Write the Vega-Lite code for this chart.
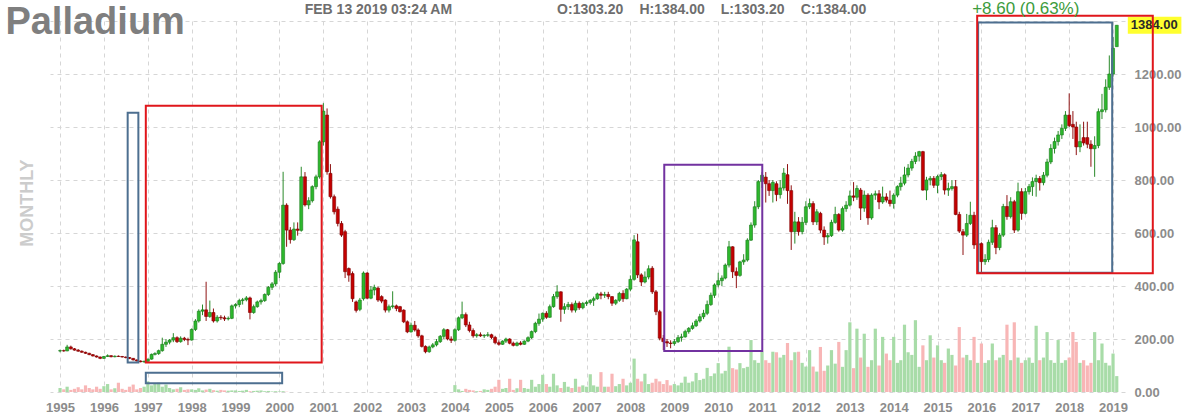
{
"$schema": "https://vega.github.io/schema/vega-lite/v6.json",
"width": 1075, "height": 371,
"autosize": "none",
"padding": {"left": 50, "top": 21, "right": 71, "bottom": 25},
"background": "white",
"config": {"view": {"stroke": null}, "font": "Liberation Sans",
  "axis": {"gridColor": "#d6d6d6", "gridDash": [4, 4], "gridWidth": 1, "domain": false, "ticks": false, "zindex": 0,
    "labelFont": "Liberation Sans", "labelFontSize": 13, "labelFontWeight": "bold", "labelColor": "#8c8c8c", "title": null}},
"datasets": {
"px": [
{"d":"1995-01","o":155,"h":160,"l":150,"c":156,"v":15},
{"d":"1995-02","o":156,"h":160,"l":152,"c":155,"v":10},
{"d":"1995-03","o":155,"h":178,"l":154,"c":170,"v":20},
{"d":"1995-04","o":170,"h":175,"l":160,"c":163,"v":8},
{"d":"1995-05","o":163,"h":166,"l":156,"c":158,"v":12},
{"d":"1995-06","o":158,"h":162,"l":152,"c":154,"v":18},
{"d":"1995-07","o":154,"h":157,"l":148,"c":150,"v":10},
{"d":"1995-08","o":150,"h":152,"l":144,"c":146,"v":25},
{"d":"1995-09","o":146,"h":148,"l":139,"c":141,"v":15},
{"d":"1995-10","o":141,"h":143,"l":134,"c":136,"v":10},
{"d":"1995-11","o":136,"h":138,"l":130,"c":132,"v":20},
{"d":"1995-12","o":132,"h":134,"l":124,"c":127,"v":12},
{"d":"1996-01","o":127,"h":136,"l":125,"c":134,"v":22},
{"d":"1996-02","o":134,"h":142,"l":132,"c":137,"v":30},
{"d":"1996-03","o":137,"h":139,"l":131,"c":133,"v":10},
{"d":"1996-04","o":133,"h":138,"l":131,"c":135,"v":14},
{"d":"1996-05","o":135,"h":138,"l":132,"c":134,"v":35},
{"d":"1996-06","o":134,"h":136,"l":130,"c":132,"v":12},
{"d":"1996-07","o":132,"h":134,"l":127,"c":130,"v":8},
{"d":"1996-08","o":130,"h":132,"l":124,"c":127,"v":20},
{"d":"1996-09","o":127,"h":128,"l":119,"c":121,"v":28},
{"d":"1996-10","o":121,"h":123,"l":115,"c":117,"v":10},
{"d":"1996-11","o":117,"h":119,"l":112,"c":114,"v":15},
{"d":"1996-12","o":114,"h":118,"l":110,"c":116,"v":20},
{"d":"1997-01","o":116,"h":126,"l":114,"c":124,"v":40},
{"d":"1997-02","o":124,"h":145,"l":122,"c":142,"v":25},
{"d":"1997-03","o":142,"h":150,"l":138,"c":145,"v":30},
{"d":"1997-04","o":145,"h":160,"l":140,"c":156,"v":35},
{"d":"1997-05","o":156,"h":205,"l":152,"c":180,"v":20},
{"d":"1997-06","o":180,"h":200,"l":170,"c":188,"v":28},
{"d":"1997-07","o":188,"h":200,"l":180,"c":196,"v":15},
{"d":"1997-08","o":196,"h":222,"l":188,"c":205,"v":10},
{"d":"1997-09","o":205,"h":210,"l":185,"c":190,"v":12},
{"d":"1997-10","o":190,"h":210,"l":186,"c":203,"v":18},
{"d":"1997-11","o":203,"h":208,"l":192,"c":198,"v":8},
{"d":"1997-12","o":198,"h":205,"l":177,"c":196,"v":10},
{"d":"1998-01","o":196,"h":240,"l":194,"c":236,"v":10},
{"d":"1998-02","o":236,"h":275,"l":230,"c":268,"v":8},
{"d":"1998-03","o":268,"h":312,"l":262,"c":305,"v":14},
{"d":"1998-04","o":305,"h":330,"l":290,"c":310,"v":6},
{"d":"1998-05","o":310,"h":416,"l":268,"c":285,"v":9},
{"d":"1998-06","o":285,"h":345,"l":280,"c":300,"v":12},
{"d":"1998-07","o":300,"h":315,"l":262,"c":268,"v":7},
{"d":"1998-08","o":268,"h":290,"l":262,"c":282,"v":5},
{"d":"1998-09","o":282,"h":290,"l":272,"c":280,"v":8},
{"d":"1998-10","o":280,"h":288,"l":268,"c":276,"v":6},
{"d":"1998-11","o":276,"h":285,"l":270,"c":278,"v":5},
{"d":"1998-12","o":278,"h":330,"l":275,"c":325,"v":6},
{"d":"1999-01","o":325,"h":335,"l":315,"c":330,"v":6},
{"d":"1999-02","o":330,"h":352,"l":320,"c":345,"v":4},
{"d":"1999-03","o":345,"h":355,"l":330,"c":348,"v":5},
{"d":"1999-04","o":348,"h":362,"l":342,"c":355,"v":8},
{"d":"1999-05","o":355,"h":360,"l":274,"c":300,"v":3},
{"d":"1999-06","o":300,"h":330,"l":295,"c":322,"v":4},
{"d":"1999-07","o":322,"h":345,"l":318,"c":340,"v":5},
{"d":"1999-08","o":340,"h":352,"l":330,"c":345,"v":6},
{"d":"1999-09","o":345,"h":372,"l":340,"c":368,"v":3},
{"d":"1999-10","o":368,"h":400,"l":362,"c":395,"v":4},
{"d":"1999-11","o":395,"h":415,"l":385,"c":408,"v":2},
{"d":"1999-12","o":408,"h":460,"l":400,"c":452,"v":3},
{"d":"2000-01","o":452,"h":490,"l":430,"c":485,"v":2},
{"d":"2000-02","o":485,"h":831,"l":480,"c":705,"v":3},
{"d":"2000-03","o":705,"h":712,"l":548,"c":611,"v":1},
{"d":"2000-04","o":611,"h":622,"l":560,"c":575,"v":0},
{"d":"2000-05","o":575,"h":640,"l":570,"c":615,"v":0},
{"d":"2000-06","o":615,"h":640,"l":590,"c":610,"v":0},
{"d":"2000-07","o":610,"h":850,"l":605,"c":812,"v":0},
{"d":"2000-08","o":812,"h":830,"l":700,"c":706,"v":0},
{"d":"2000-09","o":706,"h":735,"l":690,"c":722,"v":0},
{"d":"2000-10","o":722,"h":780,"l":715,"c":775,"v":0},
{"d":"2000-11","o":775,"h":820,"l":765,"c":812,"v":0},
{"d":"2000-12","o":812,"h":950,"l":805,"c":944,"v":0},
{"d":"2001-01","o":944,"h":1090,"l":930,"c":1060,"v":0},
{"d":"2001-02","o":1045,"h":1070,"l":820,"c":831,"v":0},
{"d":"2001-03","o":825,"h":860,"l":730,"c":737,"v":0},
{"d":"2001-04","o":737,"h":745,"l":670,"c":680,"v":0},
{"d":"2001-05","o":690,"h":700,"l":625,"c":636,"v":0},
{"d":"2001-06","o":636,"h":645,"l":585,"c":592,"v":0},
{"d":"2001-07","o":605,"h":612,"l":430,"c":454,"v":0},
{"d":"2001-08","o":466,"h":470,"l":416,"c":441,"v":0},
{"d":"2001-09","o":447,"h":455,"l":340,"c":352,"v":0},
{"d":"2001-10","o":340,"h":345,"l":300,"c":308,"v":0},
{"d":"2001-11","o":312,"h":355,"l":305,"c":347,"v":0},
{"d":"2001-12","o":352,"h":455,"l":345,"c":449,"v":0},
{"d":"2002-01","o":449,"h":452,"l":350,"c":354,"v":0},
{"d":"2002-02","o":354,"h":400,"l":350,"c":385,"v":0},
{"d":"2002-03","o":385,"h":405,"l":365,"c":395,"v":0},
{"d":"2002-04","o":392,"h":398,"l":340,"c":347,"v":0},
{"d":"2002-05","o":360,"h":365,"l":335,"c":343,"v":0},
{"d":"2002-06","o":347,"h":350,"l":300,"c":309,"v":0},
{"d":"2002-07","o":309,"h":330,"l":300,"c":322,"v":0},
{"d":"2002-08","o":322,"h":380,"l":315,"c":325,"v":0},
{"d":"2002-09","o":325,"h":330,"l":305,"c":315,"v":0},
{"d":"2002-10","o":322,"h":325,"l":300,"c":303,"v":0},
{"d":"2002-11","o":309,"h":312,"l":260,"c":265,"v":0},
{"d":"2002-12","o":265,"h":270,"l":222,"c":227,"v":0},
{"d":"2003-01","o":227,"h":262,"l":224,"c":252,"v":0},
{"d":"2003-02","o":252,"h":268,"l":228,"c":234,"v":0},
{"d":"2003-03","o":234,"h":240,"l":205,"c":212,"v":0},
{"d":"2003-04","o":212,"h":216,"l":168,"c":172,"v":0},
{"d":"2003-05","o":172,"h":176,"l":146,"c":152,"v":0},
{"d":"2003-06","o":152,"h":175,"l":148,"c":170,"v":0},
{"d":"2003-07","o":170,"h":185,"l":165,"c":178,"v":0},
{"d":"2003-08","o":178,"h":200,"l":172,"c":190,"v":0},
{"d":"2003-09","o":190,"h":215,"l":185,"c":210,"v":0},
{"d":"2003-10","o":210,"h":241,"l":200,"c":235,"v":0},
{"d":"2003-11","o":235,"h":238,"l":195,"c":200,"v":0},
{"d":"2003-12","o":200,"h":210,"l":185,"c":195,"v":0},
{"d":"2004-01","o":195,"h":240,"l":190,"c":235,"v":26},
{"d":"2004-02","o":235,"h":285,"l":230,"c":280,"v":10},
{"d":"2004-03","o":280,"h":341,"l":275,"c":292,"v":4},
{"d":"2004-04","o":292,"h":300,"l":245,"c":253,"v":12},
{"d":"2004-05","o":253,"h":265,"l":225,"c":232,"v":8},
{"d":"2004-06","o":232,"h":240,"l":205,"c":212,"v":6},
{"d":"2004-07","o":212,"h":222,"l":205,"c":216,"v":3},
{"d":"2004-08","o":216,"h":225,"l":208,"c":212,"v":4},
{"d":"2004-09","o":212,"h":218,"l":204,"c":214,"v":10},
{"d":"2004-10","o":214,"h":226,"l":208,"c":216,"v":8},
{"d":"2004-11","o":216,"h":220,"l":200,"c":206,"v":12},
{"d":"2004-12","o":206,"h":212,"l":180,"c":186,"v":20},
{"d":"2005-01","o":186,"h":195,"l":175,"c":180,"v":46},
{"d":"2005-02","o":180,"h":195,"l":178,"c":192,"v":12},
{"d":"2005-03","o":192,"h":205,"l":185,"c":200,"v":15},
{"d":"2005-04","o":200,"h":203,"l":180,"c":184,"v":50},
{"d":"2005-05","o":184,"h":190,"l":172,"c":176,"v":8},
{"d":"2005-06","o":176,"h":190,"l":172,"c":185,"v":14},
{"d":"2005-07","o":185,"h":192,"l":176,"c":180,"v":46},
{"d":"2005-08","o":180,"h":195,"l":178,"c":192,"v":15},
{"d":"2005-09","o":192,"h":210,"l":188,"c":205,"v":12},
{"d":"2005-10","o":205,"h":232,"l":200,"c":228,"v":46},
{"d":"2005-11","o":228,"h":265,"l":222,"c":259,"v":20},
{"d":"2005-12","o":259,"h":296,"l":250,"c":275,"v":30},
{"d":"2006-01","o":275,"h":300,"l":265,"c":297,"v":65},
{"d":"2006-02","o":297,"h":305,"l":276,"c":282,"v":30},
{"d":"2006-03","o":282,"h":330,"l":280,"c":322,"v":20},
{"d":"2006-04","o":322,"h":370,"l":318,"c":360,"v":69},
{"d":"2006-05","o":360,"h":403,"l":352,"c":378,"v":25},
{"d":"2006-06","o":378,"h":380,"l":265,"c":312,"v":15},
{"d":"2006-07","o":312,"h":335,"l":295,"c":322,"v":38},
{"d":"2006-08","o":322,"h":340,"l":310,"c":330,"v":20},
{"d":"2006-09","o":330,"h":338,"l":300,"c":309,"v":15},
{"d":"2006-10","o":309,"h":345,"l":300,"c":335,"v":50},
{"d":"2006-11","o":335,"h":342,"l":310,"c":318,"v":20},
{"d":"2006-12","o":318,"h":340,"l":312,"c":334,"v":25},
{"d":"2007-01","o":334,"h":345,"l":325,"c":338,"v":20},
{"d":"2007-02","o":338,"h":350,"l":330,"c":346,"v":67},
{"d":"2007-03","o":346,"h":360,"l":325,"c":352,"v":25},
{"d":"2007-04","o":352,"h":375,"l":348,"c":370,"v":20},
{"d":"2007-05","o":370,"h":378,"l":350,"c":365,"v":75},
{"d":"2007-06","o":365,"h":378,"l":355,"c":368,"v":20},
{"d":"2007-07","o":368,"h":378,"l":350,"c":360,"v":20},
{"d":"2007-08","o":360,"h":362,"l":325,"c":335,"v":69},
{"d":"2007-09","o":335,"h":350,"l":328,"c":346,"v":22},
{"d":"2007-10","o":346,"h":378,"l":340,"c":372,"v":30},
{"d":"2007-11","o":372,"h":384,"l":340,"c":352,"v":50},
{"d":"2007-12","o":352,"h":392,"l":350,"c":388,"v":25},
{"d":"2008-01","o":388,"h":440,"l":380,"c":425,"v":35},
{"d":"2008-02","o":425,"h":592,"l":420,"c":574,"v":126},
{"d":"2008-03","o":567,"h":597,"l":430,"c":442,"v":50},
{"d":"2008-04","o":442,"h":448,"l":400,"c":415,"v":40},
{"d":"2008-05","o":415,"h":455,"l":410,"c":434,"v":69},
{"d":"2008-06","o":434,"h":478,"l":425,"c":465,"v":30},
{"d":"2008-07","o":467,"h":475,"l":370,"c":378,"v":35},
{"d":"2008-08","o":378,"h":385,"l":290,"c":303,"v":50},
{"d":"2008-09","o":303,"h":310,"l":195,"c":203,"v":40},
{"d":"2008-10","o":203,"h":215,"l":158,"c":190,"v":30},
{"d":"2008-11","o":190,"h":200,"l":170,"c":185,"v":45},
{"d":"2008-12","o":185,"h":195,"l":165,"c":183,"v":25},
{"d":"2009-01","o":183,"h":200,"l":175,"c":190,"v":30},
{"d":"2009-02","o":190,"h":215,"l":185,"c":205,"v":25},
{"d":"2009-03","o":205,"h":220,"l":190,"c":208,"v":35},
{"d":"2009-04","o":208,"h":235,"l":205,"c":228,"v":58},
{"d":"2009-05","o":228,"h":245,"l":220,"c":240,"v":35},
{"d":"2009-06","o":240,"h":262,"l":235,"c":250,"v":40},
{"d":"2009-07","o":250,"h":275,"l":245,"c":268,"v":72},
{"d":"2009-08","o":268,"h":295,"l":262,"c":284,"v":45},
{"d":"2009-09","o":284,"h":310,"l":275,"c":297,"v":50},
{"d":"2009-10","o":297,"h":345,"l":290,"c":330,"v":91},
{"d":"2009-11","o":330,"h":375,"l":325,"c":365,"v":60},
{"d":"2009-12","o":365,"h":410,"l":355,"c":404,"v":70},
{"d":"2010-01","o":404,"h":450,"l":395,"c":420,"v":109},
{"d":"2010-02","o":420,"h":440,"l":400,"c":430,"v":70},
{"d":"2010-03","o":430,"h":485,"l":425,"c":479,"v":80},
{"d":"2010-04","o":479,"h":570,"l":470,"c":548,"v":171},
{"d":"2010-05","o":548,"h":550,"l":430,"c":454,"v":90},
{"d":"2010-06","o":454,"h":470,"l":392,"c":440,"v":85},
{"d":"2010-07","o":440,"h":495,"l":435,"c":491,"v":109},
{"d":"2010-08","o":491,"h":520,"l":480,"c":498,"v":90},
{"d":"2010-09","o":498,"h":580,"l":492,"c":573,"v":95},
{"d":"2010-10","o":573,"h":640,"l":570,"c":630,"v":196},
{"d":"2010-11","o":630,"h":720,"l":620,"c":699,"v":120},
{"d":"2010-12","o":699,"h":800,"l":690,"c":794,"v":110},
{"d":"2011-01","o":794,"h":830,"l":770,"c":818,"v":152},
{"d":"2011-02","o":811,"h":830,"l":715,"c":786,"v":120},
{"d":"2011-03","o":786,"h":800,"l":740,"c":760,"v":110},
{"d":"2011-04","o":760,"h":800,"l":715,"c":791,"v":152},
{"d":"2011-05","o":786,"h":795,"l":720,"c":745,"v":150},
{"d":"2011-06","o":745,"h":800,"l":730,"c":770,"v":130},
{"d":"2011-07","o":770,"h":845,"l":760,"c":826,"v":140},
{"d":"2011-08","o":820,"h":860,"l":710,"c":760,"v":185},
{"d":"2011-09","o":760,"h":780,"l":536,"c":605,"v":120},
{"d":"2011-10","o":605,"h":680,"l":560,"c":642,"v":150},
{"d":"2011-11","o":642,"h":660,"l":590,"c":605,"v":152},
{"d":"2011-12","o":605,"h":660,"l":595,"c":640,"v":110},
{"d":"2012-01","o":640,"h":720,"l":630,"c":699,"v":96},
{"d":"2012-02","o":699,"h":730,"l":690,"c":711,"v":158},
{"d":"2012-03","o":711,"h":720,"l":630,"c":642,"v":96},
{"d":"2012-04","o":642,"h":690,"l":630,"c":680,"v":77},
{"d":"2012-05","o":674,"h":680,"l":600,"c":611,"v":170},
{"d":"2012-06","o":611,"h":625,"l":555,"c":585,"v":80},
{"d":"2012-07","o":585,"h":600,"l":560,"c":590,"v":100},
{"d":"2012-08","o":590,"h":650,"l":585,"c":640,"v":158},
{"d":"2012-09","o":640,"h":699,"l":635,"c":670,"v":107},
{"d":"2012-10","o":670,"h":675,"l":605,"c":611,"v":189},
{"d":"2012-11","o":611,"h":700,"l":605,"c":692,"v":95},
{"d":"2012-12","o":692,"h":720,"l":680,"c":705,"v":158},
{"d":"2013-01","o":705,"h":760,"l":700,"c":740,"v":263},
{"d":"2013-02","o":740,"h":792,"l":720,"c":735,"v":90},
{"d":"2013-03","o":735,"h":780,"l":725,"c":768,"v":239},
{"d":"2013-04","o":762,"h":770,"l":649,"c":694,"v":130},
{"d":"2013-05","o":694,"h":760,"l":680,"c":743,"v":220},
{"d":"2013-06","o":743,"h":750,"l":631,"c":657,"v":95},
{"d":"2013-07","o":657,"h":750,"l":650,"c":743,"v":120},
{"d":"2013-08","o":743,"h":760,"l":725,"c":748,"v":239},
{"d":"2013-09","o":748,"h":762,"l":690,"c":717,"v":100},
{"d":"2013-10","o":717,"h":775,"l":710,"c":736,"v":208},
{"d":"2013-11","o":736,"h":750,"l":715,"c":724,"v":145},
{"d":"2013-12","o":724,"h":760,"l":700,"c":711,"v":120},
{"d":"2014-01","o":711,"h":750,"l":692,"c":743,"v":208},
{"d":"2014-02","o":743,"h":780,"l":735,"c":775,"v":110},
{"d":"2014-03","o":775,"h":812,"l":760,"c":788,"v":120},
{"d":"2014-04","o":788,"h":850,"l":780,"c":819,"v":254},
{"d":"2014-05","o":819,"h":860,"l":810,"c":845,"v":150},
{"d":"2014-06","o":845,"h":880,"l":835,"c":870,"v":140},
{"d":"2014-07","o":870,"h":905,"l":860,"c":890,"v":271},
{"d":"2014-08","o":890,"h":910,"l":870,"c":907,"v":95},
{"d":"2014-09","o":907,"h":910,"l":760,"c":762,"v":176},
{"d":"2014-10","o":762,"h":812,"l":724,"c":800,"v":120},
{"d":"2014-11","o":800,"h":815,"l":780,"c":806,"v":214},
{"d":"2014-12","o":806,"h":815,"l":770,"c":780,"v":130},
{"d":"2015-01","o":780,"h":820,"l":750,"c":813,"v":176},
{"d":"2015-02","o":813,"h":830,"l":800,"c":820,"v":120},
{"d":"2015-03","o":820,"h":825,"l":745,"c":762,"v":110},
{"d":"2015-04","o":762,"h":790,"l":740,"c":768,"v":164},
{"d":"2015-05","o":768,"h":800,"l":760,"c":775,"v":140},
{"d":"2015-06","o":775,"h":800,"l":667,"c":670,"v":100},
{"d":"2015-07","o":670,"h":680,"l":600,"c":607,"v":245},
{"d":"2015-08","o":605,"h":615,"l":517,"c":592,"v":130},
{"d":"2015-09","o":592,"h":672,"l":585,"c":636,"v":140},
{"d":"2015-10","o":636,"h":718,"l":630,"c":667,"v":120},
{"d":"2015-11","o":667,"h":680,"l":540,"c":555,"v":208},
{"d":"2015-12","o":555,"h":580,"l":520,"c":560,"v":110},
{"d":"2016-01","o":560,"h":565,"l":453,"c":492,"v":183},
{"d":"2016-02","o":492,"h":520,"l":480,"c":500,"v":110},
{"d":"2016-03","o":500,"h":575,"l":490,"c":565,"v":120},
{"d":"2016-04","o":565,"h":650,"l":555,"c":620,"v":183},
{"d":"2016-05","o":620,"h":630,"l":520,"c":545,"v":120},
{"d":"2016-06","o":545,"h":600,"l":535,"c":592,"v":130},
{"d":"2016-07","o":592,"h":710,"l":585,"c":700,"v":140},
{"d":"2016-08","o":700,"h":743,"l":650,"c":662,"v":254},
{"d":"2016-09","o":662,"h":735,"l":655,"c":718,"v":120},
{"d":"2016-10","o":718,"h":725,"l":600,"c":611,"v":263},
{"d":"2016-11","o":611,"h":790,"l":605,"c":756,"v":130},
{"d":"2016-12","o":756,"h":769,"l":650,"c":674,"v":110},
{"d":"2017-01","o":674,"h":770,"l":670,"c":756,"v":120},
{"d":"2017-02","o":756,"h":785,"l":745,"c":775,"v":130},
{"d":"2017-03","o":775,"h":810,"l":740,"c":794,"v":110},
{"d":"2017-04","o":794,"h":820,"l":737,"c":806,"v":250},
{"d":"2017-05","o":806,"h":815,"l":760,"c":790,"v":120},
{"d":"2017-06","o":790,"h":830,"l":780,"c":818,"v":130},
{"d":"2017-07","o":818,"h":880,"l":810,"c":868,"v":226},
{"d":"2017-08","o":868,"h":935,"l":860,"c":919,"v":120},
{"d":"2017-09","o":919,"h":960,"l":900,"c":945,"v":110},
{"d":"2017-10","o":945,"h":985,"l":930,"c":970,"v":196},
{"d":"2017-11","o":970,"h":1010,"l":955,"c":995,"v":110},
{"d":"2017-12","o":995,"h":1060,"l":985,"c":1045,"v":120},
{"d":"2018-01","o":1045,"h":1127,"l":1000,"c":1005,"v":130},
{"d":"2018-02","o":1010,"h":1060,"l":955,"c":1000,"v":226},
{"d":"2018-03","o":1000,"h":1020,"l":894,"c":925,"v":189},
{"d":"2018-04","o":925,"h":1010,"l":905,"c":945,"v":110},
{"d":"2018-05","o":960,"h":1020,"l":930,"c":940,"v":120},
{"d":"2018-06","o":960,"h":1020,"l":920,"c":935,"v":100},
{"d":"2018-07","o":935,"h":950,"l":850,"c":918,"v":110},
{"d":"2018-08","o":918,"h":965,"l":812,"c":930,"v":226},
{"d":"2018-09","o":930,"h":1070,"l":920,"c":1058,"v":120},
{"d":"2018-10","o":1058,"h":1125,"l":1030,"c":1065,"v":183},
{"d":"2018-11","o":1065,"h":1180,"l":1055,"c":1150,"v":110},
{"d":"2018-12","o":1150,"h":1270,"l":1140,"c":1200,"v":100},
{"d":"2019-01","o":1200,"h":1340,"l":1190,"c":1297,"v":145},
{"d":"2019-02","o":1303.2,"h":1384,"l":1303.2,"c":1384,"v":60}
],
"boxes": [
{"kind":"blue","x1":"1996-07-17","x2":"1996-10-14","p1":111,"p2":1054},
{"kind":"blue","x1":"1996-12-15","x2":"2000-01-24","p1":33,"p2":73},
{"kind":"blue","x1":"2015-12-05","x2":"2018-12-25","p1":450,"p2":1394},
{"kind":"purple","x1":"2008-10-09","x2":"2011-01-03","p1":155,"p2":858},
{"kind":"red","x1":"1996-12-15","x2":"2000-12-18","p1":111,"p2":1080},
{"kind":"red","x1":"2015-11-27","x2":"2019-11-28","p1":448,"p2":1420}
],
"lastTag": [
{"label":"1384.00","x1":"2019-05-04","x2":"2020-07-23","xt":"2019-05-28","p":1384,"p1":1352,"p2":1416}
]
},
"layer": [
{"data": {"name": "px"},
 "mark": {"type": "bar", "size": 3.2},
 "encoding": {
  "x": {"field": "d", "type": "temporal",
    "scale": {"domain": ["1994-11-20", "2019-02-28"], "nice": false},
    "axis": {"format": "%Y", "tickCount": {"interval": "year", "step": 1}, "labelPadding": 9, "labelOverlap": false, "labelFlush": false, "grid": true}},
  "y": {"field": "v", "type": "quantitative",
    "scale": {"domain": [0, 1400], "nice": false, "zero": false},
    "axis": {"orient": "right", "values": [0, 200, 400, 600, 800, 1000, 1200, 1400], "format": ".2f",
      "labelExpr": "datum.value == 1400 ? '' : datum.label", "labelPadding": 9, "grid": true}},
  "y2": {"datum": 0},
  "color": {"condition": {"test": "datum.c >= datum.o", "value": "#a8dca8"}, "value": "#f8b6b6"}
 }},
{"data": {"name": "px"},
 "mark": {"type": "rule", "strokeWidth": 1},
 "encoding": {
  "x": {"field": "d", "type": "temporal"},
  "y": {"field": "l", "type": "quantitative"},
  "y2": {"field": "h"},
  "color": {"condition": {"test": "datum.c >= datum.o", "value": "#2a8a2a"}, "value": "#8e1212"}
 }},
{"data": {"name": "px"},
 "mark": {"type": "bar", "size": 3, "strokeWidth": 0.6},
 "encoding": {
  "x": {"field": "d", "type": "temporal"},
  "y": {"field": "o", "type": "quantitative"},
  "y2": {"field": "c"},
  "color": {"condition": {"test": "datum.c >= datum.o", "value": "#2db82d"}, "value": "#c40000"},
  "stroke": {"condition": {"test": "datum.c >= datum.o", "value": "#18781a"}, "value": "#7d0000"}
 }},
{"data": {"name": "lastTag"},
 "mark": {"type": "rect", "color": "#ffff2e"},
 "encoding": {
  "x": {"field": "x1", "type": "temporal"},
  "x2": {"field": "x2"},
  "y": {"field": "p1", "type": "quantitative"},
  "y2": {"field": "p2"}
 }},
{"data": {"name": "lastTag"},
 "mark": {"type": "text", "align": "left", "baseline": "middle", "fontSize": 13, "fontWeight": "bold", "color": "#2a2a2a"},
 "encoding": {
  "x": {"field": "xt", "type": "temporal"},
  "y": {"field": "p", "type": "quantitative"},
  "text": {"field": "label"}
 }},
{"data": {"name": "boxes"},
 "mark": {"type": "rect", "filled": false, "strokeWidth": 2},
 "encoding": {
  "x": {"field": "x1", "type": "temporal"},
  "x2": {"field": "x2"},
  "y": {"field": "p1", "type": "quantitative"},
  "y2": {"field": "p2"},
  "stroke": {"field": "kind", "type": "nominal", "scale": {"domain": ["red", "blue", "purple"], "range": ["#e0161b", "#4d6f90", "#7232a0"]}, "legend": null}
 }},
{"data": {"values": [{}]},
 "mark": {"type": "text", "text": "Palladium", "align": "left", "baseline": "alphabetic", "fontSize": 38, "fontWeight": "bold", "color": "#7f7f7f"},
 "encoding": {
  "x": {"datum": {"year": 1993, "month": 10, "date": 3}, "type": "temporal"},
  "y": {"datum": 1351, "type": "quantitative"}
 }},
{"data": {"values": [{}]},
 "mark": {"type": "text", "text": "FEB 13 2019 03:24 AM", "align": "left", "baseline": "middle", "fontSize": 14, "fontWeight": "bold", "color": "#6e6e6e"},
 "encoding": {
  "x": {"datum": {"year": 2000, "month": 7, "date": 30}, "type": "temporal"},
  "y": {"datum": 1441, "type": "quantitative"}
 }},
{"data": {"values": [{}]},
 "mark": {"type": "text", "text": "O:1303.20", "align": "left", "baseline": "middle", "fontSize": 14, "fontWeight": "bold", "color": "#6e6e6e"},
 "encoding": {
  "x": {"datum": {"year": 2006, "month": 5, "date": 1}, "type": "temporal"},
  "y": {"datum": 1441, "type": "quantitative"}
 }},
{"data": {"values": [{}]},
 "mark": {"type": "text", "text": "H:1384.00", "align": "left", "baseline": "middle", "fontSize": 14, "fontWeight": "bold", "color": "#6e6e6e"},
 "encoding": {
  "x": {"datum": {"year": 2008, "month": 3, "date": 16}, "type": "temporal"},
  "y": {"datum": 1441, "type": "quantitative"}
 }},
{"data": {"values": [{}]},
 "mark": {"type": "text", "text": "L:1303.20", "align": "left", "baseline": "middle", "fontSize": 14, "fontWeight": "bold", "color": "#6e6e6e"},
 "encoding": {
  "x": {"datum": {"year": 2010, "month": 1, "date": 22}, "type": "temporal"},
  "y": {"datum": 1441, "type": "quantitative"}
 }},
{"data": {"values": [{}]},
 "mark": {"type": "text", "text": "C:1384.00", "align": "left", "baseline": "middle", "fontSize": 14, "fontWeight": "bold", "color": "#6e6e6e"},
 "encoding": {
  "x": {"datum": {"year": 2011, "month": 11, "date": 20}, "type": "temporal"},
  "y": {"datum": 1441, "type": "quantitative"}
 }},
{"data": {"values": [{}]},
 "mark": {"type": "text", "text": "+8.60 (0.63%)", "align": "left", "baseline": "middle", "fontSize": 17, "color": "#3c9c3c"},
 "encoding": {
  "x": {"datum": {"year": 2015, "month": 10, "date": 16}, "type": "temporal"},
  "y": {"datum": 1445, "type": "quantitative"}
 }},
{"data": {"values": [{}]},
 "mark": {"type": "text", "text": "MONTHLY", "align": "center", "baseline": "middle", "angle": 270, "fontSize": 18, "fontWeight": "bold", "color": "#cccccc"},
 "encoding": {
  "x": {"datum": {"year": 1994, "month": 4, "date": 10}, "type": "temporal"},
  "y": {"datum": 713, "type": "quantitative"}
 }}
]
}
